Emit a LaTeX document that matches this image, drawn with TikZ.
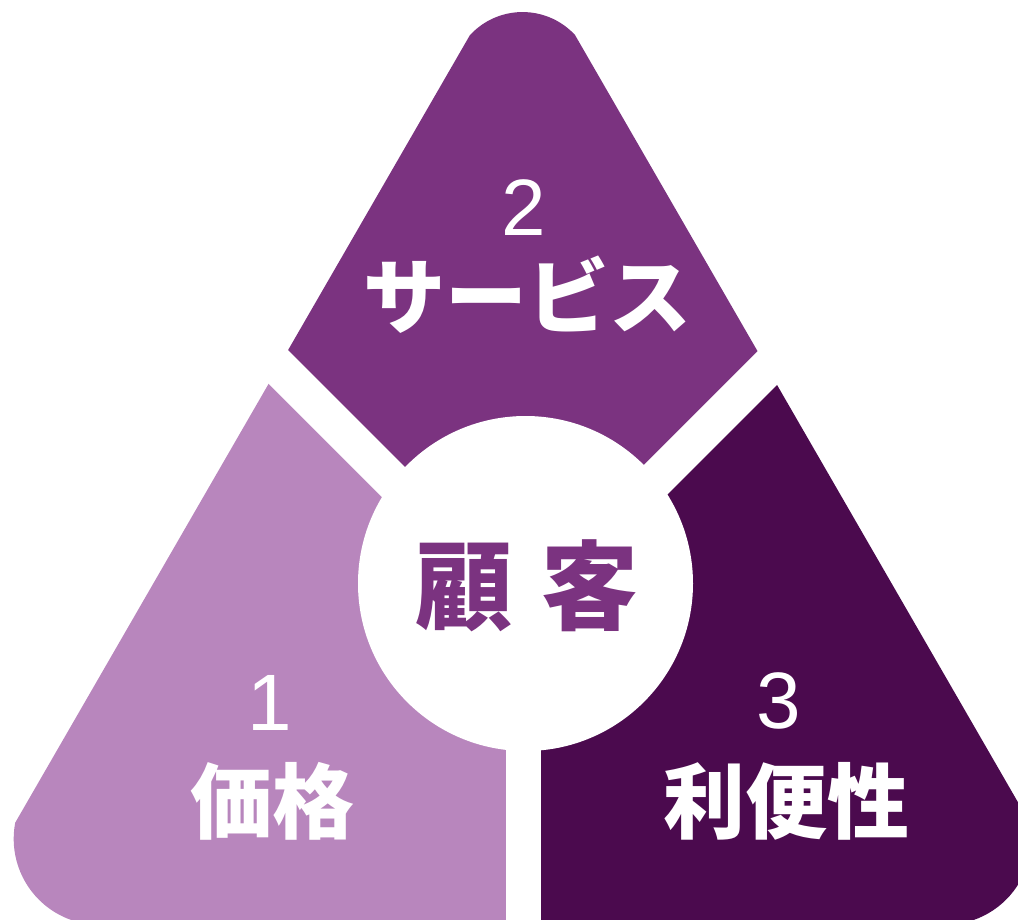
\documentclass[tikz,border=0pt]{standalone}
\usepackage{fontspec}
\setmainfont{Liberation Sans}
\newfontfamily\jp{Noto Sans CJK JP}
\definecolor{cTop}{RGB}{123,51,128}
\definecolor{cLeft}{RGB}{184,134,189}
\definecolor{cRight}{RGB}{75,10,78}
\tikzset{
  tripath/.style={insert path={(470,35) -- (15.2,822.7)
      arc[start angle=169.2,end angle=270,radius=86pt] -- (945.3,924.8)
      arc[start angle=270,end angle=370.8,radius=86pt] -- (575,35)
      arc[start angle=42.7,end angle=137.3,radius=71.4pt] -- cycle}},
  gap/.style={white,line width=#1},
  numtxt/.style={text=white,anchor=base,inner sep=0pt,font=\fontsize{80}{80}\selectfont},
  jptxt/.style={text=white,anchor=base,inner sep=0pt,font=\jp\bfseries\fontsize{82}{82}\selectfont},
}
\begin{document}
\begin{tikzpicture}[x=1pt,y=-1pt]
\useasboundingbox (0,0) rectangle (1018,919);
\clip (0,0) rectangle (1018,919);
\coordinate (hub) at (523.3,612);
% top region
\begin{scope}
  \clip (hub) -- (-200,-111.3) -- (-200,-300) -- (1246.6,-300) -- (1246.6,-111.3) -- cycle;
  \fill[cTop,tripath];
\end{scope}
% left region
\begin{scope}
  \clip (hub) -- (-200,-111.3) -- (-200,1100) -- (523.3,1100) -- cycle;
  \fill[cLeft,tripath];
\end{scope}
% right region
\begin{scope}
  \clip (hub) -- (1246.6,-111.3) -- (1246.6,1100) -- (523.3,1100) -- cycle;
  \fill[cRight,tripath];
\end{scope}
% gaps
\coordinate (gDown) at (523.3,1000);
\coordinate (gLeft) at (-100,-11.3);
\coordinate (gRight) at (1146.6,-11.3);
\draw[gap=35.3pt] (hub) -- (gDown);
\draw[gap=37.5pt] (hub) -- (gLeft);
\draw[gap=37.5pt] (hub) -- (gRight);
% centre circle
\node[circle,fill=white,inner sep=0pt,minimum size=335pt] (core) at (525.5,583.5) {};
\node[anchor=base,inner sep=0pt,text=cTop,font=\jp\bfseries\fontsize{97}{97}\selectfont] (kokyaku) at (527,622) {顧\hspace{0.3em}客};
% labels
\node[numtxt] (n2) at (524,235) {2};
\node[jptxt] (t2) at (527.5,327) {サービス};
\node[numtxt] (n1) at (270,730) {1};
\node[jptxt] (t1) at (272,832) {価格};
\node[numtxt] (n3) at (779,728) {3};
\node[jptxt] (t3) at (786,832) {利便性};
\end{tikzpicture}
\end{document}
